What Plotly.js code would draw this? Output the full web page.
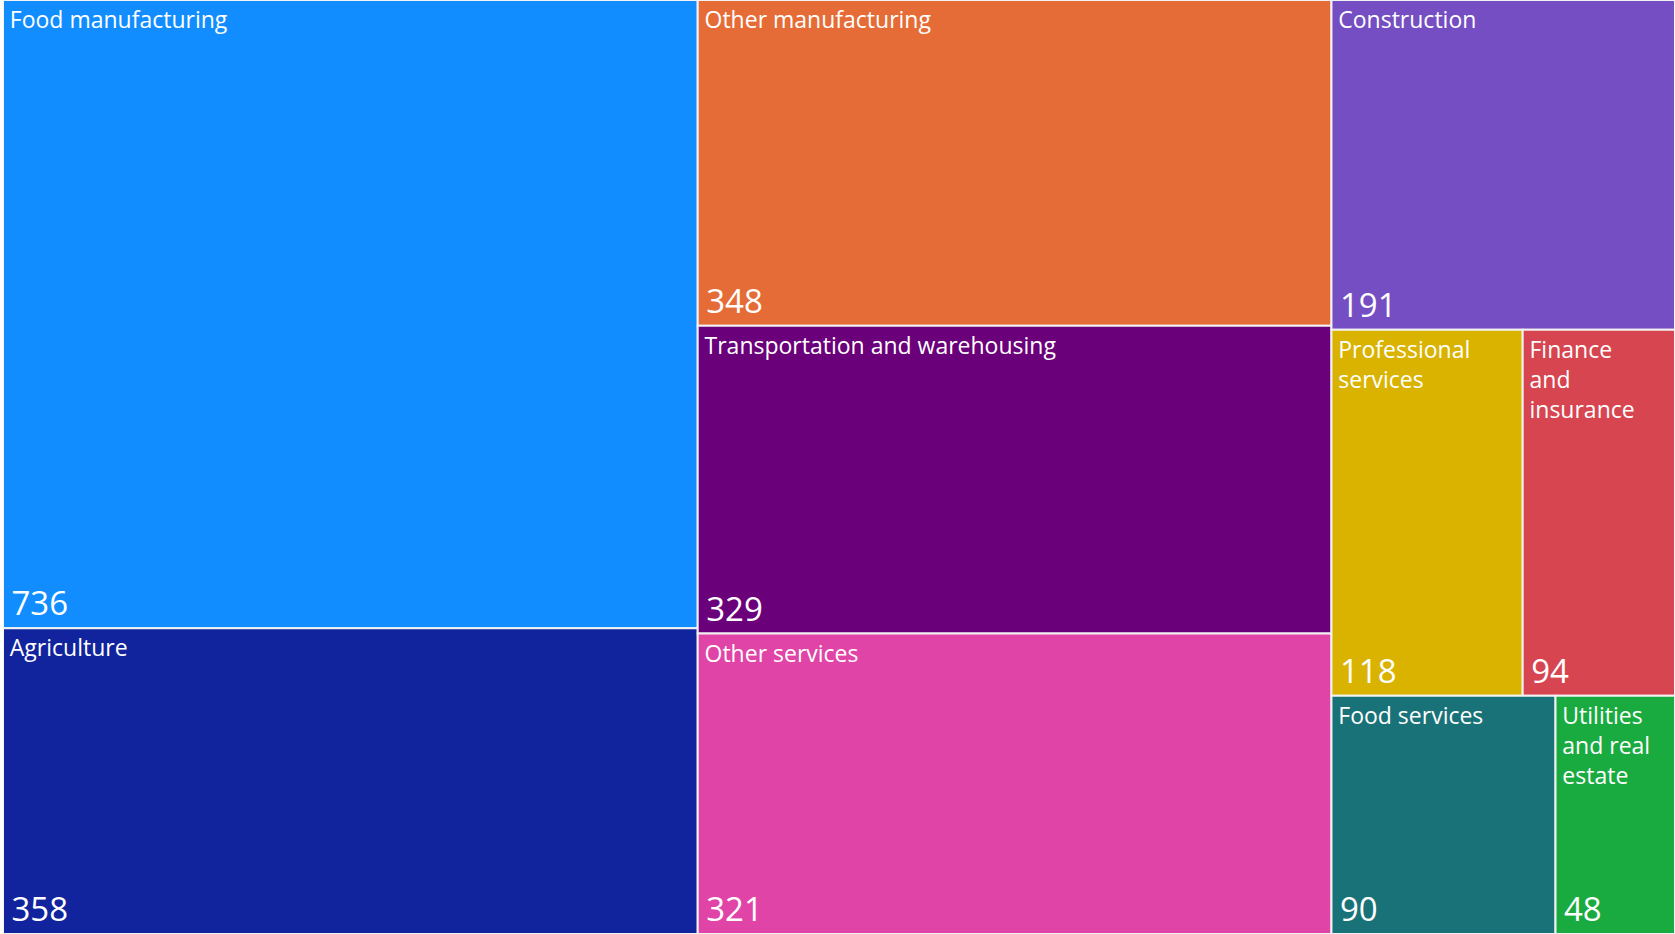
<!DOCTYPE html>
<html>
<head>
<meta charset="utf-8">
<script src="https://cdn.plot.ly/plotly-3.0.1.min.js"></script>
<style>
html,body{margin:0;padding:0;background:#fff;overflow:hidden;}
#chart{position:absolute;left:3px;top:0;width:1672px;height:934px;}
</style>
</head>
<body>
<div id="chart"></div>
<script>
const categories = ["Food manufacturing","Agriculture","Other manufacturing","Transportation and warehousing","Other services","Construction","Professional services","Finance and insurance","Food services","Utilities and real estate"];
const displayLabels = ["Food manufacturing","Agriculture","Other manufacturing","Transportation and warehousing","Other services","Construction","Professional<br>services","Finance<br>and<br>insurance","Food services","Utilities<br>and real<br>estate"];
const values = [736,358,348,329,321,191,118,94,90,48];
const colors = ["#118DFF","#12239E","#E66C37","#6B007B","#E044A7","#744EC2","#D9B300","#D64550","#197278","#1AAB40"];
const parents = categories.map(() => "");
const FONT = "'Open Sans', 'Noto Sans', sans-serif";
const IND = "\u2009";

const base = {
  type: "treemap",
  labels: categories,
  parents: parents,
  values: values,
  sort: true,
  tiling: {packing: "squarify", squarifyratio: 1.618, pad: 0},
  pathbar: {visible: false},
  hoverinfo: "none",
  domain: {x: [0, 1], y: [0, 1]}
};

const t1 = Object.assign({}, base, {
  text: displayLabels.map(s => IND + s.split("<br>").join("<br>" + IND)),
  texttemplate: "%{text}",
  textposition: "top left",
  textfont: {family: FONT, size: 23, color: "#ffffff"},
  marker: {colors: colors, line: {color: "#f2f2f2", width: 2}, pad: {t: 0, l: 0, r: 0, b: 0}}
});

const t2 = Object.assign({}, base, {
  texttemplate: IND + "%{value}",
  textposition: "bottom left",
  textfont: {family: FONT, size: 33, color: "#ffffff"},
  marker: {colors: colors.map(() => "rgba(0,0,0,0)"), line: {color: "rgba(0,0,0,0)", width: 0}, pad: {t: 0, l: 0, r: 0, b: 0}}
});

Plotly.newPlot("chart", [t1, t2], {
  margin: {l: 0, r: 0, t: 0, b: 0},
  paper_bgcolor: "#ffffff",
  showlegend: false,
  width: 1672,
  height: 934
}, {displayModeBar: false, staticPlot: true});
</script>
</body>
</html>
